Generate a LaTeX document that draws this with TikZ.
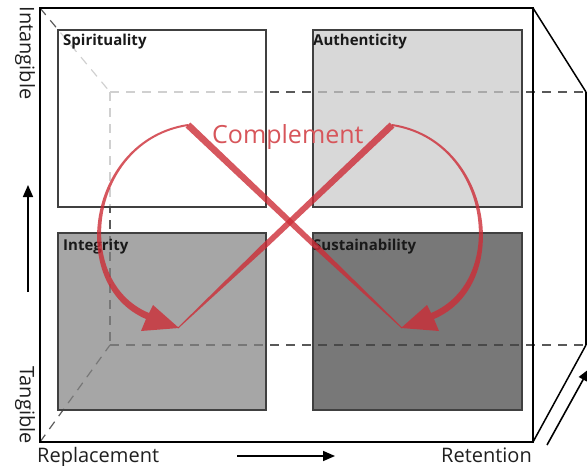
\documentclass[tikz,border=0pt]{standalone}
\usepackage{fontspec}
\setmainfont{Open Sans}
\usetikzlibrary{arrows.meta}
\definecolor{redc}{RGB}{205,45,55}
\definecolor{redt}{RGB}{215,85,90}
\definecolor{fA}{RGB}{201,201,201}
\definecolor{fI}{RGB}{131,131,131}
\definecolor{fS}{RGB}{68,68,68}
\begin{document}
\begin{tikzpicture}[x=1pt,y=-1pt,
  sq/.style={draw=black!75, line width=1.3pt, fill opacity=0.72},
  dsh/.style={draw=black!65, line width=1.2pt, dash pattern=on 9pt off 7pt},
  frame/.style={draw=black, line width=1.8pt},
  lab/.style={font=\fontsize{15}{17}\selectfont\bfseries, text=black!90, inner sep=0pt, anchor=base west},
  ax/.style={font=\fontsize{20}{22}\selectfont, text=black!88, inner sep=0pt},
  arr/.style={-{Triangle[length=12pt,width=10pt]}, line width=1.6pt},
  redfill/.style={fill=redc, fill opacity=0.8}]
\useasboundingbox (0,0) rectangle (587,466);
% back frame (dashed)
\coordinate (b1) at (110,92);
\coordinate (b2) at (586,92);
\coordinate (b3) at (586,345);
\coordinate (b4) at (110,345);
\coordinate (f1) at (40,8);
\coordinate (f2) at (533,8);
\coordinate (f3) at (533,442);
\coordinate (f4) at (40,442);
\draw[dsh] (b1) -- (b2);
\draw[dsh] (b4) -- (b3);
\draw[dsh] (b1) -- (b4);
\draw[dsh] (f1) -- (b1);
\draw[dsh] (f4) -- (b4);
\draw[frame, line width=1.5pt] (b2) -- (b3);
% squares
\draw[sq, fill=white] (58,30) rectangle (266,207);
\draw[sq, fill=fA] (313,30) rectangle (522,207);
\draw[sq, fill=fI] (58,233) rectangle (266,410);
\draw[sq, fill=fS] (313,233) rectangle (522,410);
\node[lab] (spi) at (63,45) {Spirituality};
\node[lab] (aut) at (313,45) {Authenticity};
\node[lab] (int) at (63,250) {Integrity};
\node[lab] (sus) at (313,250) {Sustainability};
% front frame
\draw[frame] (f1) rectangle (f3);
\draw[frame, line width=1.5pt] (f2) -- (b2);
\draw[frame, line width=1.5pt] (f3) -- (b3);
% complement
\node[font=\fontsize{25}{27}\selectfont, text=redt, inner sep=0pt, anchor=base west] (comp) at (212,143) {Complement};
\fill[redfill] (190.4,122.5) -- (318.3,244.8) -- (402.3,327.6) -- (401.7,328.4) -- (314.5,248.8) -- (185.6,127.5) -- cycle;
\fill[redfill] (394.4,127.5) -- (265.5,248.8) -- (178.3,328.4) -- (177.7,327.6) -- (261.7,244.8) -- (389.6,122.5) -- cycle;
\fill[redfill] (188,124) .. controls (87,139) and (66,285) .. (146,319) -- (141,331) -- (179,328) -- (153,305) -- (149,313) .. controls (72,281) and (90,141) .. (188,126) -- cycle;
\fill[redfill] (392,124) .. controls (493,139) and (514,285) .. (434,319) -- (439,331) -- (401,328) -- (427,305) -- (431,313) .. controls (508,281) and (490,141) .. (392,126) -- cycle;
% axes
\node[ax, rotate=-90] (intan) at (25,53) {Intangible};
\node[ax, rotate=-90] (tan) at (25,405) {Tangible};
\node[ax, anchor=base west] (rep) at (37,462) {Replacement};
\node[ax, anchor=base east] (ret) at (532,462) {Retention};
\coordinate (v0) at (28,292);
\coordinate (v1) at (28,185);
\coordinate (h0) at (237,456);
\coordinate (h1) at (335,456);
\coordinate (d0) at (547,445);
\coordinate (d1) at (589,369);
\draw[arr] (v0) -- (v1);
\draw[arr] (h0) -- (h1);
\draw[arr] (d0) -- (d1);
\end{tikzpicture}
\end{document}
